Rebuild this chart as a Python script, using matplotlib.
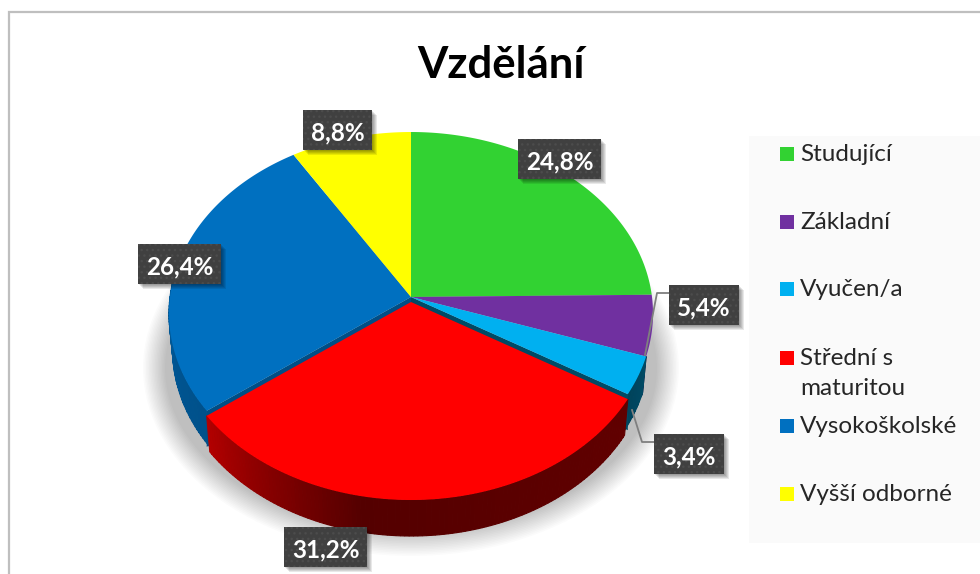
import numpy as np
import matplotlib
matplotlib.use("Agg")
import matplotlib.pyplot as plt
from matplotlib.patches import Rectangle, Ellipse

# Data
categories = ['Studující', 'Základní', 'Vyučen/a', 'Střední s\nmaturitou', 'Vysokoškolské', 'Vyšší odborné']
values = [24.8, 5.4, 3.4, 31.2, 26.4, 8.8]
labels = ['24,8%', '5,4%', '3,4%', '31,2%', '26,4%', '8,8%']
colors = ['#32D232', '#7030A0', '#00B0F0', '#FF0000', '#0070C0', '#FFFF00']
title = 'Vzdělání'

plt.rcParams['font.family'] = ['Lato', 'DejaVu Sans']

fig = plt.figure(figsize=(9.8, 5.74), dpi=100)
ax = fig.add_axes([0, 0, 1, 1])
ax.set_xlim(0, 980)
ax.set_ylim(574, 0)
ax.axis('off')

# pie geometry in pixels
cx, cy = 411, 297
rad_x, rad_y, persp = 241, 180, 0.091
depth = 36
red_shift = 5


def project(theta, r=1.0):
    # theta clockwise from top, perspective view of the flat pie
    X = r * np.sin(theta)
    Y = r * np.cos(theta)
    w = 1 + persp * Y
    return cx + rad_x * X / w, cy - rad_y * Y / w


def rim(a, b):
    n = max(int(abs(b - a) * 90), 2)
    return project(np.linspace(a, b, n))


def shade(c, f):
    rgb = np.array(matplotlib.colors.to_rgb(c))
    return tuple(rgb * f)


def wall(a, b, col, f1, f2, shift=0):
    # side of the pie, thin strips so it gets a gradient
    n = max(int(abs(b - a) * 60), 2)
    edges = np.linspace(a, b, n + 1)
    for i in range(n):
        t = np.linspace(edges[i], edges[i + 1], 6)
        x, y = project(t)
        y = y + shift
        xx = np.r_[x, cx + (x[::-1] - cx) * 0.985]
        yy = np.r_[y, y[::-1] + depth]
        f = f1 + (f2 - f1) * i / max(n - 1, 1)
        c = shade(col, f)
        # same colour edge closes the gaps between strips
        ax.fill(xx, yy, facecolor=c, edgecolor=c, lw=0.8, zorder=3)


# frame + legend background
ax.plot([9, 9, 980], [574, 12, 12], color='#bfbfbf', lw=1.6, zorder=1, solid_joinstyle='miter')
ax.add_patch(Rectangle((749, 136), 231, 407, fc='#fafafa', ec='none', zorder=1))

# soft shadow under the pie
for i in range(16):
    t = i / 15
    ax.add_patch(Ellipse((411, 368), 2 * (268 - 22 * t), 2 * (188 - 24 * t),
                         fc='#000000', ec='none', alpha=0.016, zorder=2))

# angles from the values
cum = np.cumsum([0] + values) / np.sum(values) * 2 * np.pi
starts, ends = cum[:-1], cum[1:]
RED = 3

# blue and cyan side walls, purple side
wall(np.pi / 2 + 0.35, ends[1], colors[1], 0.45, 0.4)
wall(starts[2], ends[2], colors[2], 0.42, 0.38)
wall(starts[4], np.radians(280), colors[4], 0.72, 0.8)

# cut faces showing where the red slice moved out
for ang, col in [(starts[RED], colors[2]), (ends[RED], colors[4])]:
    px, py = project(ang)
    ax.fill([cx, px, px, cx], [cy, py, py + depth, cy + depth],
            color=shade(col, 0.42 if col == colors[2] else 0.7), lw=0, zorder=3)

# top faces
for i in range(len(values)):
    if i == RED:
        continue
    x, y = rim(starts[i], ends[i])
    ax.fill(np.r_[cx, x], np.r_[cy, y], color=colors[i], lw=0, zorder=4)

# red slice on top of the rest
wall(ends[RED], np.radians(190), colors[RED], 0.7, 0.33, red_shift)
wall(np.radians(190), starts[RED], colors[RED], 0.33, 0.38, red_shift)
x, y = rim(starts[RED], ends[RED])
ax.fill(np.r_[cx, x], np.r_[cy, y] + red_shift, color=colors[RED], lw=0, zorder=5)

# leader lines
ax.plot([669, 657, 645], [293, 293, 355], color='#7f7f7f', lw=1.3, zorder=6)
ax.plot([654, 642, 632], [442, 442, 410], color='#7f7f7f', lw=1.3, zorder=6)

# value labels, left x / top y / width of each box
box_x = [518, 669, 654, 284, 138, 303]
box_y = [139, 285, 434, 527, 244, 110]
box_w = [83, 70, 70, 83, 83, 69]
box_h = 40
for i in range(len(labels)):
    for k in range(5):
        ax.add_patch(Rectangle((box_x[i] + 1 + k, box_y[i] + 1 + k), box_w[i], box_h,
                               fc='#000000', ec='none', alpha=0.09, zorder=7))
    ax.add_patch(Rectangle((box_x[i], box_y[i]), box_w[i], box_h, fc='#404040',
                           ec='#4c4c4c', hatch='...', lw=0, zorder=8))
    ax.text(box_x[i] + box_w[i] / 2, box_y[i] + box_h / 2 + 1, labels[i], color='white',
            fontsize=17.5, fontweight='bold', ha='center', va='center_baseline', zorder=9)

# legend
leg_y = [154, 222, 289, 358, 426, 494]
for i in range(len(categories)):
    ax.add_patch(Rectangle((780, leg_y[i] - 7), 14, 14, fc=colors[i], ec='none', zorder=3))
    ax.text(800, leg_y[i] - 10, categories[i], color='#262626', fontsize=17.5, va='top',
            linespacing=1.55, zorder=3)

ax.text(501, 78, title, color='black', fontsize=31.5, fontweight='bold', ha='center', va='baseline')

fig.savefig('out.png', dpi=100)
